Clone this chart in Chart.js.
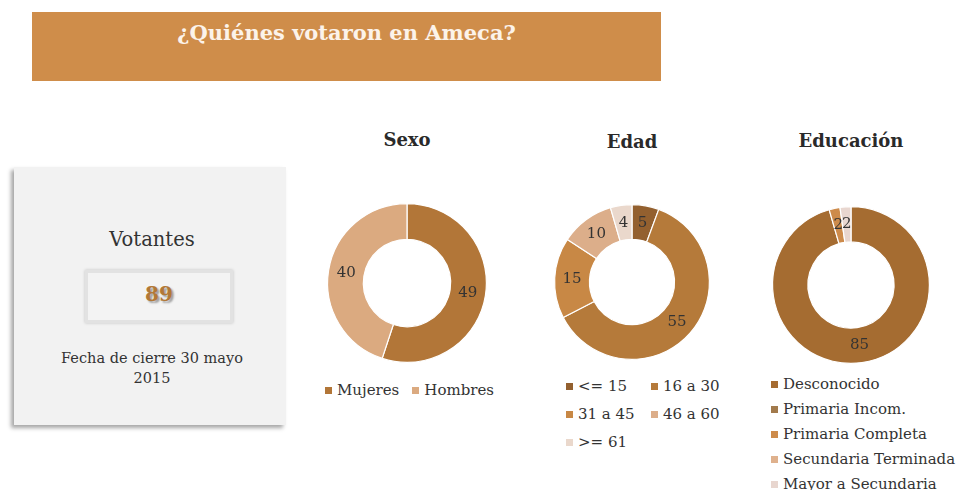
<!DOCTYPE html>
<html><head><meta charset="utf-8">
<script src="https://cdn.jsdelivr.net/npm/chart.js@4"></script>
<style>
html,body{margin:0;padding:0;background:#fff;width:958px;height:490px;overflow:hidden;font-family:"DejaVu Serif",serif;color:#333;}
#banner{position:absolute;left:32px;top:12px;width:629px;height:69px;background:#CF8D4A;}
#banner span{position:absolute;left:0;right:0;top:8px;text-align:center;color:#FCF3EA;font-weight:bold;font-size:21px;line-height:26px;}
#card{position:absolute;left:14px;top:167px;width:272px;height:258px;background:#F2F2F2;box-shadow:-3px 3px 4px rgba(0,0,0,0.35);}
#numbox{position:absolute;left:85px;top:270px;width:142px;height:47px;border:3px solid #E2E2E2;background:#F3F3F3;box-shadow:0 0 3px rgba(0,0,0,0.2);}
#num{position:absolute;left:85px;top:282px;width:148px;text-align:center;font-size:20px;font-weight:bold;line-height:24px;color:#B27836;text-shadow:2px 2px 2px rgba(0,0,0,0.35);}
#fecha{position:absolute;left:14px;width:276px;top:348px;text-align:center;font-size:14.5px;line-height:20px;color:#333;}
.ttl{position:absolute;width:200px;text-align:center;font-weight:bold;font-size:18px;line-height:22px;color:#2a2a2a;}
canvas{position:absolute;}
.leg{position:absolute;font-size:15px;line-height:18px;color:#333;}
.leg .it{display:flex;align-items:center;white-space:nowrap;}
.leg .mk{display:inline-block;width:7px;height:7px;margin-right:5px;}
#legSexo{left:325px;top:381px;display:flex;gap:13px;}
#legEdad{left:566px;top:377px;display:grid;grid-template-columns:85px 85px;row-gap:10px;}
#legEdu{left:771px;top:375px;display:flex;flex-direction:column;row-gap:7px;}
</style></head>
<body>
<div id="banner"><span>¿Quiénes votaron en Ameca?</span></div>
<div id="card"></div>
<div style="position:absolute;left:14px;width:276px;top:228px;text-align:center;font-size:19.5px;line-height:24px;color:#333;">Votantes</div>
<div id="numbox"></div>
<div id="num"></div>
<div id="fecha">Fecha de cierre 30 mayo<br>2015</div>

<div class="ttl" style="left:307px;top:129px;">Sexo</div>
<div class="ttl" style="left:532px;top:131px;">Edad</div>
<div class="ttl" style="left:751px;top:130px;">Educación</div>

<canvas id="cSexo" width="200" height="170" style="left:307px;top:198px;"></canvas>
<canvas id="cEdad" width="200" height="170" style="left:532px;top:197px;"></canvas>
<canvas id="cEdu" width="200" height="170" style="left:751px;top:200px;"></canvas>
<div id="legSexo" class="leg"></div>
<div id="legEdad" class="leg"></div>
<div id="legEdu" class="leg"></div>

<script>
// ---- data ----
const totalVotantes = 89;
const sexoLabels = ['Mujeres', 'Hombres'];
const sexoValues = [49, 40];
const edadLabels = ['<= 15', '16 a 30', '31 a 45', '46 a 60', '>= 61'];
const edadValues = [5, 55, 15, 10, 4];
const eduLabels = ['Desconocido', 'Primaria Incom.', 'Primaria Completa', 'Secundaria Terminada', 'Mayor a Secundaria'];
const eduValues = [85, 0, 2, 0, 2];

// ---- styles ----
const sexoColors = ['#B27638', '#DBAA80'];
const edadColors = ['#93602F', '#B57A3A', '#C88845', '#DCAE8A', '#EAD8CC'];
const eduColors = ['#A56C31', '#A27A4C', '#CD8B4B', '#DFB18D', '#E8D6CF'];

document.getElementById('num').textContent = totalVotantes;

const valueLabels = {
  id: 'valueLabels',
  afterDatasetsDraw(chart) {
    const ctx = chart.ctx;
    const meta = chart.getDatasetMeta(0);
    const vals = chart.data.datasets[0].data;
    ctx.save();
    ctx.font = '15px "DejaVu Serif", serif';
    ctx.fillStyle = '#333';
    ctx.textAlign = 'center';
    ctx.textBaseline = 'middle';
    meta.data.forEach((arc, i) => {
      if (!vals[i]) return;
      const p = arc.tooltipPosition(true);
      ctx.fillText(String(vals[i]), p.x, p.y);
    });
    ctx.restore();
  }
};

function makeDonut(id, labels, values, colors, pad, legendId) {
  const chart = new Chart(document.getElementById(id), {
    type: 'doughnut',
    data: { labels: labels, datasets: [{ data: values, backgroundColor: colors, borderColor: '#ffffff', borderWidth: 1.2 }] },
    options: {
      responsive: false,
      animation: false,
      cutout: '55%',
      layout: { padding: pad },
      plugins: { legend: { display: false }, tooltip: { enabled: false } }
    },
    plugins: [valueLabels]
  });
  const gen = Chart.overrides.doughnut.plugins.legend.labels.generateLabels;
  const items = gen(chart);
  const box = document.getElementById(legendId);
  items.forEach(it => {
    const d = document.createElement('div');
    d.className = 'it';
    const m = document.createElement('span');
    m.className = 'mk';
    m.style.background = it.fillStyle;
    const t = document.createElement('span');
    t.textContent = it.text;
    d.appendChild(m); d.appendChild(t);
    box.appendChild(d);
  });
  return chart;
}

makeDonut('cSexo', sexoLabels, sexoValues, sexoColors, 5, 'legSexo');
makeDonut('cEdad', edadLabels, edadValues, edadColors, 7, 'legEdad');
makeDonut('cEdu', eduLabels, eduValues, eduColors, 6, 'legEdu');
</script>
</body></html>
